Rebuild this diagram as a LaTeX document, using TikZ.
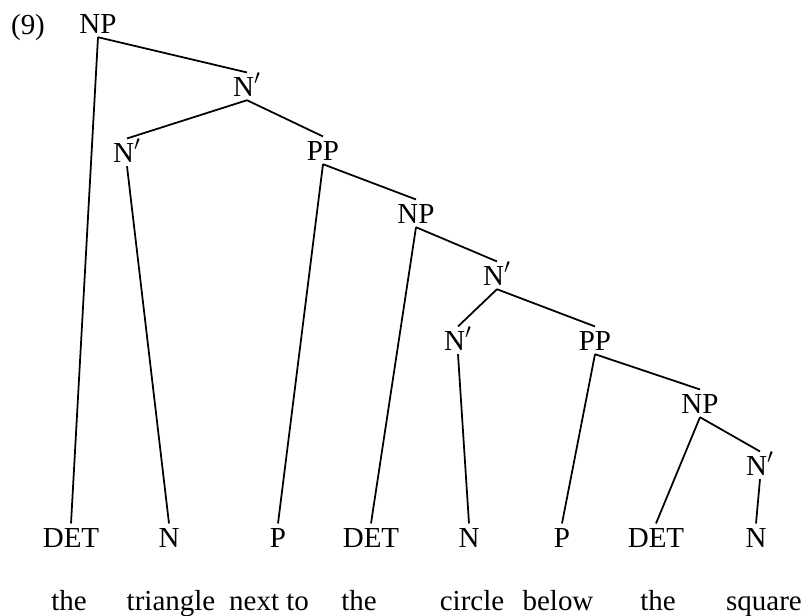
\documentclass[tikz,border=0pt]{standalone}
\usepackage{fontspec}
\setmainfont{Liberation Serif}
\usetikzlibrary{positioning}

\begin{document}
\begin{tikzpicture}[x=0.02cm,y=-0.02cm,
    cat/.style={anchor=base,inner sep=2.2pt,text height=11pt,text depth=0pt,
                font=\fontsize{16.5}{20}\selectfont},
    word/.style={anchor=base,inner sep=0pt,font=\fontsize{16.5}{20}\selectfont},
    branch/.style={line width=1pt}]
    \useasboundingbox (0,0) rectangle (806,616);

    % Example number
    \node[word] (exnum) at (28,34)  {(9)};

    % Phrase nodes
    \node[cat] (np1)   at (98,33)   {NP};
    \node[cat] (nbar1) at (247,96)  {N$'$};
    \node[cat] (nbar2) at (127,162) {N$'$};
    \node[cat] (pp1)   at (323,160) {PP};
    \node[cat] (np2)   at (416,223) {NP};
    \node[cat] (nbar3) at (497,285) {N$'$};
    \node[cat] (nbar4) at (458,350) {N$'$};
    \node[cat] (pp2)   at (595,350) {PP};
    \node[cat] (np3)   at (700,413) {NP};
    \node[cat] (nbar5) at (760,475) {N$'$};

    % Lexical categories
    \node[cat] (det1) at (71,547)  {DET};
    \node[cat] (n1)   at (169,547) {N};
    \node[cat] (p1)   at (278,547) {P};
    \node[cat] (det2) at (371,547) {DET};
    \node[cat] (n2)   at (469,547) {N};
    \node[cat] (p2)   at (562,547) {P};
    \node[cat] (det3) at (656,547) {DET};
    \node[cat] (n3)   at (756,547) {N};

    % Words
    \node[word] (w1) at (69,610)  {the};
    \node[word] (w2) at (171,610) {triangle};
    \node[word] (w3) at (269,610) {next to};
    \node[word] (w4) at (359,610) {the};
    \node[word] (w5) at (472,610) {circle};
    \node[word] (w6) at (558,610) {below};
    \node[word] (w7) at (658,610) {the};
    \node[word] (w8) at (764,610) {square};

    % Branches
    \draw[branch] (np1.south)   -- (det1.north);
    \draw[branch] (np1.south)   -- (nbar1.north);
    \draw[branch] (nbar1.south) -- (nbar2.north);
    \draw[branch] (nbar1.south) -- (pp1.north);
    \draw[branch] (nbar2.south) -- (n1.north);
    \draw[branch] (pp1.south)   -- (p1.north);
    \draw[branch] (pp1.south)   -- (np2.north);
    \draw[branch] (np2.south)   -- (det2.north);
    \draw[branch] (np2.south)   -- (nbar3.north);
    \draw[branch] (nbar3.south) -- (nbar4.north);
    \draw[branch] (nbar3.south) -- (pp2.north);
    \draw[branch] (nbar4.south) -- (n2.north);
    \draw[branch] (pp2.south)   -- (p2.north);
    \draw[branch] (pp2.south)   -- (np3.north);
    \draw[branch] (np3.south)   -- (det3.north);
    \draw[branch] (np3.south)   -- (nbar5.north);
    \draw[branch] (nbar5.south) -- (n3.north);
\end{tikzpicture}
\end{document}
